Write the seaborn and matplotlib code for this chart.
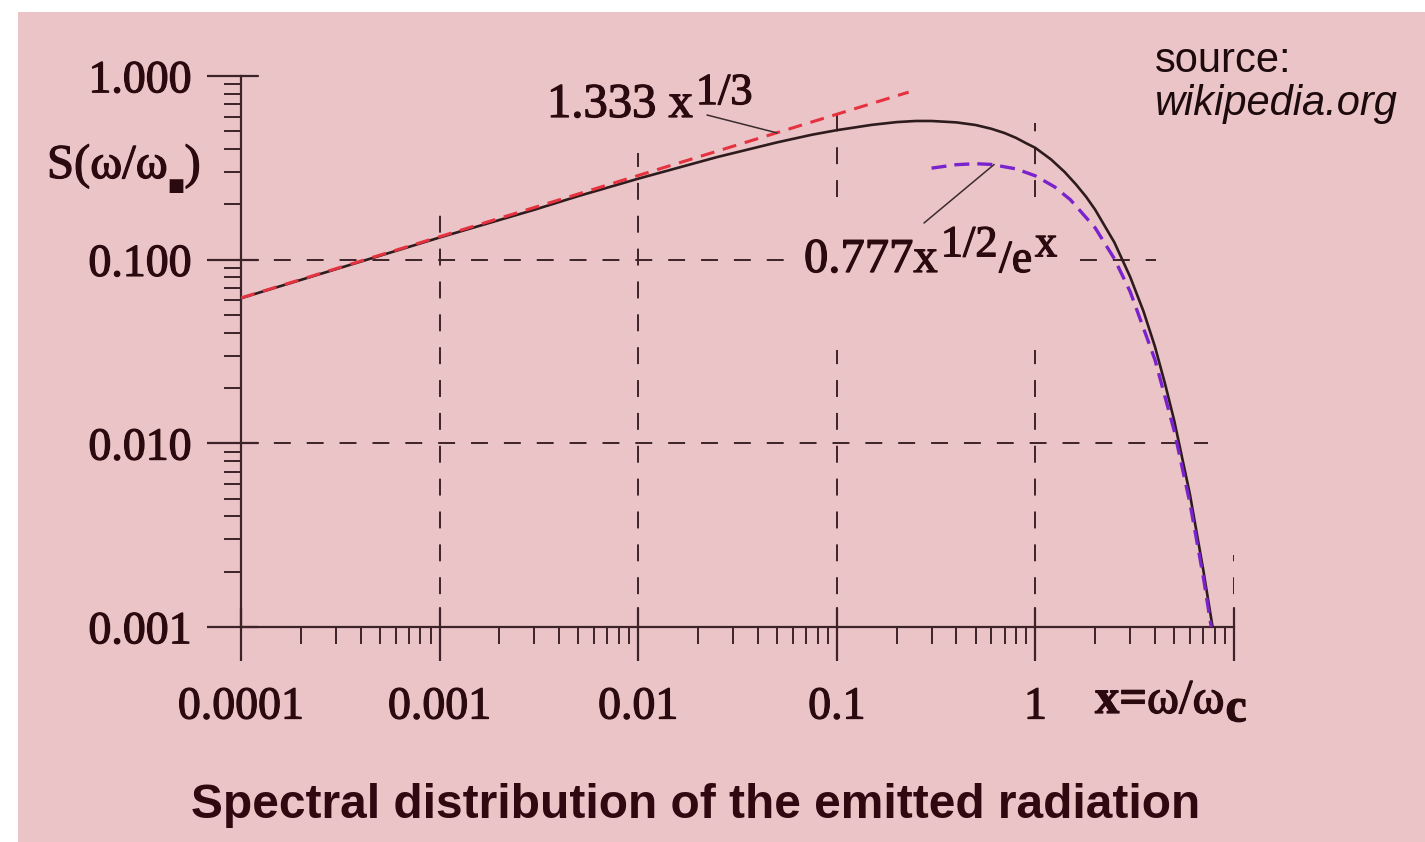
import numpy as np
import matplotlib
matplotlib.use("Agg")
import matplotlib.pyplot as plt
import matplotlib.patheffects as pe
import seaborn as sns
from matplotlib.patches import Rectangle
from matplotlib.ticker import LogLocator, NullFormatter

# ----------------------------------------------------------
# data
# ----------------------------------------------------------

# full spectrum S(x)
x_curve = [1e-4, 3e-4, 1e-3, 3e-3, 5e-3, 0.01, 0.025, 0.05, 0.075, 0.1,
           0.15, 0.2, 0.25, 0.3, 0.4, 0.5, 0.6, 0.7, 0.8, 0.9,
           1.0, 1.2, 1.4, 1.6, 1.8, 2.0, 2.5, 3.0, 3.5, 4.0,
           4.5, 5.0, 6.0, 7.0, 7.8]
s_curve = [0.0617, 0.0887, 0.132, 0.187, 0.222, 0.276, 0.362, 0.435, 0.479, 0.507,
           0.542, 0.561, 0.569, 0.569, 0.559, 0.541, 0.516, 0.489, 0.460, 0.430,
           0.406, 0.351, 0.301, 0.257, 0.220, 0.187, 0.124, 0.0806, 0.0524, 0.0336,
           0.0210, 0.0133, 0.00527, 0.00205, 0.00100]

# low frequency asymptote 1.333 x^(1/3)
x_low = [1e-4, 0.23]
s_low = [0.0619, 0.817]

# high frequency asymptote 0.777 x^(1/2) e^-x
x_high = [0.3, 0.4, 0.5, 0.6, 0.8, 1.0, 1.25, 1.5, 2.0, 2.5,
          3.0, 4.0, 5.0, 6.0, 7.0, 7.68]
s_high = [0.315, 0.329, 0.333, 0.330, 0.312, 0.286, 0.249, 0.212, 0.149, 0.101,
          0.0670, 0.0285, 0.0117, 0.00472, 0.00188, 0.00100]

x_ticks = [1e-4, 1e-3, 1e-2, 1e-1, 1, 10]
x_labels = ["0.0001", "0.001", "0.01", "0.1", "1", ""]
y_ticks = [1e-3, 1e-2, 1e-1, 1]
y_labels = ["0.001", "0.010", "0.100", "1.000"]

# ----------------------------------------------------------
# style
# ----------------------------------------------------------

PINK = "#EBC4C8"
TXT = "#2a0a0f"
AX = "#3d2327"
BLACK = "#2e1b1d"
RED = "#e5323f"
PURPLE = "#7a22cc"

sns.set_style("ticks")
plt.rcParams["font.family"] = ["Liberation Serif", "DejaVu Serif"]

# the scanned serif text is a little heavier than plain Times
HEAVY = [pe.withStroke(linewidth=0.9, foreground=TXT)]

W, H = 1425, 842


def fx(x):
    return x / W


def fy(y):
    return 1 - y / H


fig = plt.figure(figsize=(W / 100, H / 100), dpi=100)
fig.patch.set_facecolor("white")
fig.patches.append(Rectangle((fx(18), 0), 1 - fx(18), fy(12),
                             transform=fig.transFigure,
                             facecolor=PINK, edgecolor="none", zorder=-10))

ax = fig.add_axes([fx(241), fy(627), (1234 - 241) / W, (627 - 76) / H])
ax.set_facecolor("none")
ax.set_xscale("log")
ax.set_yscale("log")

# ----------------------------------------------------------
# dashed grid (broken where the labels sit)
# ----------------------------------------------------------

grid_kw = dict(colors=AX, linewidth=1.4, linestyles=[(0, (8.7, 8.2))], zorder=1)
ax.vlines(1e-3, 1e-3, 0.187, **grid_kw)
ax.vlines(1e-2, 1e-3, 0.38, **grid_kw)
ax.vlines(1e-1, 1e-3, 0.0323, **grid_kw)
ax.vlines(1e-1, 0.219, 0.653, **grid_kw)
ax.vlines(1, 1e-3, 0.0323, **grid_kw)
ax.vlines(1, 0.219, 0.555, **grid_kw)
ax.vlines(10, 1e-3, 0.00247, **grid_kw)
ax.hlines(0.1, 1e-4, 0.0583, **grid_kw)
ax.hlines(0.1, 1.685, 4.03, **grid_kw)
ax.hlines(0.01, 1e-4, 7.36, **grid_kw)

# ----------------------------------------------------------
# curves
# ----------------------------------------------------------

sns.lineplot(x=x_curve, y=s_curve, ax=ax, color=BLACK, linewidth=1.9,
             sort=False, errorbar=None, zorder=3)
sns.lineplot(x=x_low, y=s_low, ax=ax, color=RED, linewidth=2.2,
             linestyle=(0, (4.6, 2.9)), sort=False, errorbar=None, zorder=4)
sns.lineplot(x=x_high, y=s_high, ax=ax, color=PURPLE, linewidth=2.4,
             linestyle=(0, (4.5, 2.4)), sort=False, errorbar=None, zorder=4)

# ----------------------------------------------------------
# axes and ticks
# ----------------------------------------------------------

ax.set_xlim(1e-4, 10)
ax.set_ylim(1e-3, 1)
ax.set_xticks(x_ticks, x_labels)
ax.set_yticks(y_ticks, y_labels)
ax.xaxis.set_minor_locator(LogLocator(base=10, subs=np.arange(2, 10), numticks=20))
ax.yaxis.set_minor_locator(LogLocator(base=10, subs=np.arange(2, 10), numticks=20))
ax.xaxis.set_minor_formatter(NullFormatter())
ax.yaxis.set_minor_formatter(NullFormatter())

for side in ["top", "right"]:
    ax.spines[side].set_visible(False)
for side in ["left", "bottom"]:
    ax.spines[side].set_color(AX)
    ax.spines[side].set_linewidth(1.6)

ax.tick_params(which="major", direction="out", length=24.5, width=1.6,
               color=AX, labelcolor=TXT, labelsize=33)
ax.tick_params(axis="x", which="major", pad=18)
ax.tick_params(axis="y", which="major", pad=11)
ax.tick_params(which="minor", direction="out", length=12, width=1.4, color=AX)

for lab in ax.get_xticklabels() + ax.get_yticklabels():
    lab.set_path_effects(HEAVY)

# inward half of the major ticks
for t in x_ticks:
    ax.plot([t, t], [0, 19 / 551], color=AX, linewidth=1.6,
            transform=ax.get_xaxis_transform(), clip_on=False, zorder=5)
for t in y_ticks:
    ax.plot([0, 17 / 993], [t, t], color=AX, linewidth=1.6,
            transform=ax.get_yaxis_transform(), clip_on=False, zorder=5)

ax.set_xlabel("")
ax.set_ylabel("")

# ----------------------------------------------------------
# labels and annotations
# ----------------------------------------------------------


def after(prev, s, dx, dy, size, **kw):
    kw.setdefault("path_effects", HEAVY)
    return ax.annotate(s, xy=(1, 0), xycoords=prev, xytext=(dx, dy),
                       textcoords="offset points", fontsize=size, color=TXT,
                       ha="left", va="bottom", annotation_clip=False, **kw)


def serif(x, y, s, size=35, **kw):
    return fig.text(fx(x), fy(y), s, fontsize=size, color=TXT,
                    va="baseline", path_effects=HEAVY, **kw)


# y label S(w/w_c) with the broken subscript block
yl = serif(47, 178, "S(ω/ω")
sq = after(yl, "■", 0, -5, 13, family="DejaVu Sans", path_effects=[])
after(sq, ")", 0, 5, 35)

# x label
xl = serif(1095, 713, "x=", fontweight="bold")
xw = after(xl, "ω/ω", 0, 0, 35)
after(xw, "c", 1, -6, 34, fontweight="bold")

# 1.333 x^(1/3)
a1 = serif(547, 117, "1.333 x")
after(a1, "1/3", 2, 10, 32)
ax.annotate("", xy=(0.05, 0.49), xycoords="data",
            xytext=(fx(707), fy(115)), textcoords="figure fraction",
            arrowprops=dict(arrowstyle="-", color="#3a2c2e", lw=1.1,
                            shrinkA=0, shrinkB=0), zorder=6)

# 0.777 x^(1/2) / e^x
b1 = serif(804, 272, "0.777x")
b2 = after(b1, "1/2", 2, 12, 32)
b3 = after(b2, "/e", 1, -12, 33)
after(b3, "x", 2, 12, 32)
ax.annotate("", xy=(0.62, 0.33), xycoords="data",
            xytext=(fx(924), fy(223)), textcoords="figure fraction",
            arrowprops=dict(arrowstyle="-", color="#3a2c2e", lw=1.1,
                            shrinkA=0, shrinkB=0), zorder=6)

# source note
fig.text(fx(1155), fy(72), "source:", fontsize=30, color="#1c0a0d",
         family="Liberation Sans", va="baseline")
fig.text(fx(1155), fy(115), "wikipedia.org", fontsize=30, color="#1c0a0d",
         family="Liberation Sans", style="italic", va="baseline")

# title
fig.text(fx(696), fy(818), "Spectral distribution of the emitted radiation",
         fontsize=34.5, fontweight="bold", color="#300810",
         family="Liberation Sans", ha="center", va="baseline")

fig.savefig("out.png", dpi=100, facecolor=fig.get_facecolor())
